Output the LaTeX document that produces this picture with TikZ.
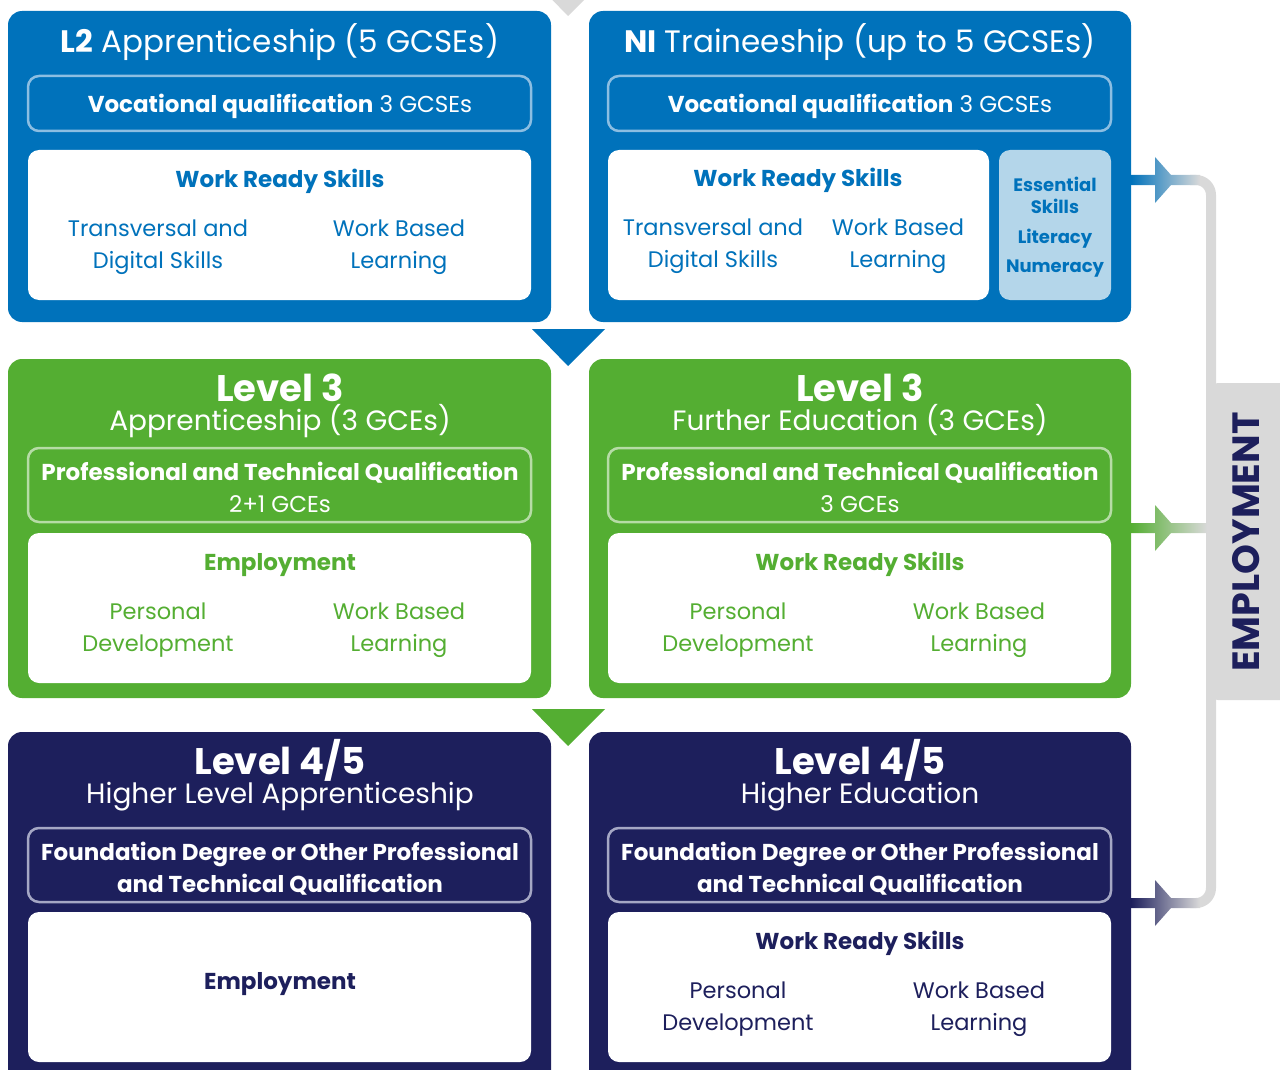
\documentclass[tikz,border=0pt]{standalone}
\usepackage{fontspec}
\setmainfont{Poppins}
\usetikzlibrary{calc}
\definecolor{lsblue}{RGB}{0,114,187}
\definecolor{lsbluelt}{RGB}{140,190,226}
\definecolor{lsess}{RGB}{180,214,234}
\definecolor{lsgreen}{RGB}{84,174,50}
\definecolor{lsgreenlt}{RGB}{182,220,166}
\definecolor{lsnavy}{RGB}{29,31,92}
\definecolor{lsnavylt}{RGB}{165,167,196}
\definecolor{lsgrey}{RGB}{217,217,217}

\begin{document}
\begin{tikzpicture}[x=1pt,y=-1pt,
  panel/.style={rounded corners=14pt},
  qbox/.style={draw=#1, line width=2.5pt, rounded corners=11pt},
  wbox/.style={fill=white, rounded corners=11pt},
  txt/.style={inner sep=0pt, anchor=base, text=#1},
  ttl/.style={txt=white, font=\fontsize{31}{32}\selectfont},
  sub/.style={txt=white, font=\fontsize{28}{32}\selectfont},
  lvl/.style={txt=white, font=\fontsize{37}{38}\selectfont\bfseries},
  qtxt/.style={txt=white, font=\fontsize{23}{32}\selectfont},
  qbold/.style={txt=white, font=\fontsize{23}{32}\selectfont\bfseries},
  head/.style={txt=#1, font=\fontsize{23}{32}\selectfont\bfseries},
  body/.style={txt=#1, font=\fontsize{22.5}{32}\selectfont},
  ess/.style={txt=lsblue, font=\fontsize{18}{21}\selectfont\bfseries}]
\useasboundingbox (0,0) rectangle (1280,1070);
\clip (0,0) rectangle (1280,1070);

% grey line and employment bar
\draw [lsgrey, line width=10pt, rounded corners=15pt] (1190,180) -- (1211,180) -- (1211,903) -- (1190,903);
\fill [lsgrey, rounded corners=12pt] (1206,383) rectangle (1300,700);
\node [txt=lsnavy, anchor=center, rotate=90, font=\fontsize{38}{40}\selectfont\bfseries] (emptext) at (1246,542) {EMPLOYMENT};

% arrows into the line
\coordinate (a1) at (1131,180); \coordinate (b1) at (1200,180);
\coordinate (a2) at (1131,528); \coordinate (b2) at (1207,528);
\coordinate (a3) at (1131,903); \coordinate (b3) at (1200,903);
\foreach \n/\c in {1/lsblue, 2/lsgreen, 3/lsnavy}
  \shade [left color=\c, right color=lsgrey] ($(a\n)+(0,-5)$) -- ($(a\n)+(24,-5)$) -- ($(a\n)+(24,-23)$) -- ($(a\n)+(40,-5)$) -- ($(b\n)+(0,-5)$)
    -- ($(b\n)+(0,5)$) -- ($(a\n)+(40,5)$) -- ($(a\n)+(24,23)$) -- ($(a\n)+(24,5)$) -- ($(a\n)+(0,5)$) -- cycle;

% arrows between levels
\path [fill=lsgrey] (532,-21) -- (605,-21) -- (568,16) -- cycle;
\path [fill=lsblue] (532,329) -- (605,329) -- (568,366) -- cycle;
\path [fill=lsgreen] (532,709) -- (605,709) -- (568,746) -- cycle;

% level 2
\fill [lsblue, panel] (8,11) rectangle (551,322);
\fill [lsblue, panel] (589,11) rectangle (1131,322);
\draw [qbox=lsbluelt] (28,76) rectangle (531,131);
\draw [qbox=lsbluelt] (608,76) rectangle (1111,131);
\fill [wbox] (28,150) rectangle (531,300);
\fill [wbox] (608,150) rectangle (989,300);
\fill [wbox, fill=lsess] (999,150) rectangle (1111,300);

\node [ttl] (l2title) at (280,53) {\textbf{L2} Apprenticeship (5 GCSEs)};
\node [ttl] (nititle) at (860,53) {\textbf{NI} Traineeship (up to 5 GCSEs)};
\node [qtxt] (l2voc) at (280,113) {\textbf{Vocational qualification} 3 GCSEs};
\node [qtxt] (nivoc) at (860,113) {\textbf{Vocational qualification} 3 GCSEs};
\node [head=lsblue] (l2wrs) at (280,187) {Work Ready Skills};
\node [body=lsblue] (l2tds) at (158,236) {Transversal and};
\node [body=lsblue] (l2tds2) at (158,268) {Digital Skills};
\node [body=lsblue] (l2wbl) at (399,236) {Work Based};
\node [body=lsblue] (l2wbl2) at (399,268) {Learning};
\node [head=lsblue] (niwrs) at (798,186) {Work Ready Skills};
\node [body=lsblue] (nitds) at (713,235) {Transversal and};
\node [body=lsblue] (nitds2) at (713,267) {Digital Skills};
\node [body=lsblue] (niwbl) at (898,235) {Work Based};
\node [body=lsblue] (niwbl2) at (898,267) {Learning};
\node [ess] (niess) at (1055,191) {Essential};
\node [ess] (niess2) at (1055,213) {Skills};
\node [ess] (nilit) at (1055,243) {Literacy};
\node [ess] (ninum) at (1055,272) {Numeracy};

% level 3
\fill [lsgreen, panel] (8,359) rectangle (551,698);
\fill [lsgreen, panel] (589,359) rectangle (1131,698);
\draw [qbox=lsgreenlt] (28,448) rectangle (531,522);
\draw [qbox=lsgreenlt] (608,448) rectangle (1111,522);
\fill [wbox] (28,533) rectangle (531,683);
\fill [wbox] (608,533) rectangle (1111,683);

\node [lvl] (l3atitle) at (280,401) {Level 3};
\node [sub] (l3asub) at (280,430) {Apprenticeship (3 GCEs)};
\node [lvl] (l3ftitle) at (860,401) {Level 3};
\node [sub] (l3fsub) at (860,430) {Further Education (3 GCEs)};
\node [qbold] (l3aptq) at (280,480) {Professional and Technical Qualification};
\node [qtxt] (l3agce) at (280,512) {2+1 GCEs};
\node [qbold] (l3fptq) at (860,480) {Professional and Technical Qualification};
\node [qtxt] (l3fgce) at (860,512) {3 GCEs};
\node [head=lsgreen] (l3aemp) at (280,570) {Employment};
\node [body=lsgreen] (l3apd) at (158,619) {Personal};
\node [body=lsgreen] (l3apd2) at (158,651) {Development};
\node [body=lsgreen] (l3awbl) at (399,619) {Work Based};
\node [body=lsgreen] (l3awbl2) at (399,651) {Learning};
\node [head=lsgreen] (l3fwrs) at (860,570) {Work Ready Skills};
\node [body=lsgreen] (l3fpd) at (738,619) {Personal};
\node [body=lsgreen] (l3fpd2) at (738,651) {Development};
\node [body=lsgreen] (l3fwbl) at (979,619) {Work Based};
\node [body=lsgreen] (l3fwbl2) at (979,651) {Learning};

% level 4/5
\fill [lsnavy, panel] (8,732) rectangle (551,1100);
\fill [lsnavy, panel] (589,732) rectangle (1131,1100);
\draw [qbox=lsnavylt] (28,828) rectangle (531,902);
\draw [qbox=lsnavylt] (608,828) rectangle (1111,902);
\fill [wbox] (28,912) rectangle (531,1062);
\fill [wbox] (608,912) rectangle (1111,1062);

\node [lvl] (l4atitle) at (280,774) {Level 4/5};
\node [sub] (l4asub) at (280,803) {Higher Level Apprenticeship};
\node [lvl] (l4htitle) at (860,774) {Level 4/5};
\node [sub] (l4hsub) at (860,803) {Higher Education};
\node [qbold] (l4afd) at (280,860) {Foundation Degree or Other Professional};
\node [qbold] (l4afd2) at (280,892) {and Technical Qualification};
\node [qbold] (l4hfd) at (860,860) {Foundation Degree or Other Professional};
\node [qbold] (l4hfd2) at (860,892) {and Technical Qualification};
\node [head=lsnavy] (l4aemp) at (280,989) {Employment};
\node [head=lsnavy] (l4hwrs) at (860,949) {Work Ready Skills};
\node [body=lsnavy] (l4hpd) at (738,998) {Personal};
\node [body=lsnavy] (l4hpd2) at (738,1030) {Development};
\node [body=lsnavy] (l4hwbl) at (979,998) {Work Based};
\node [body=lsnavy] (l4hwbl2) at (979,1030) {Learning};
\end{tikzpicture}
\end{document}
